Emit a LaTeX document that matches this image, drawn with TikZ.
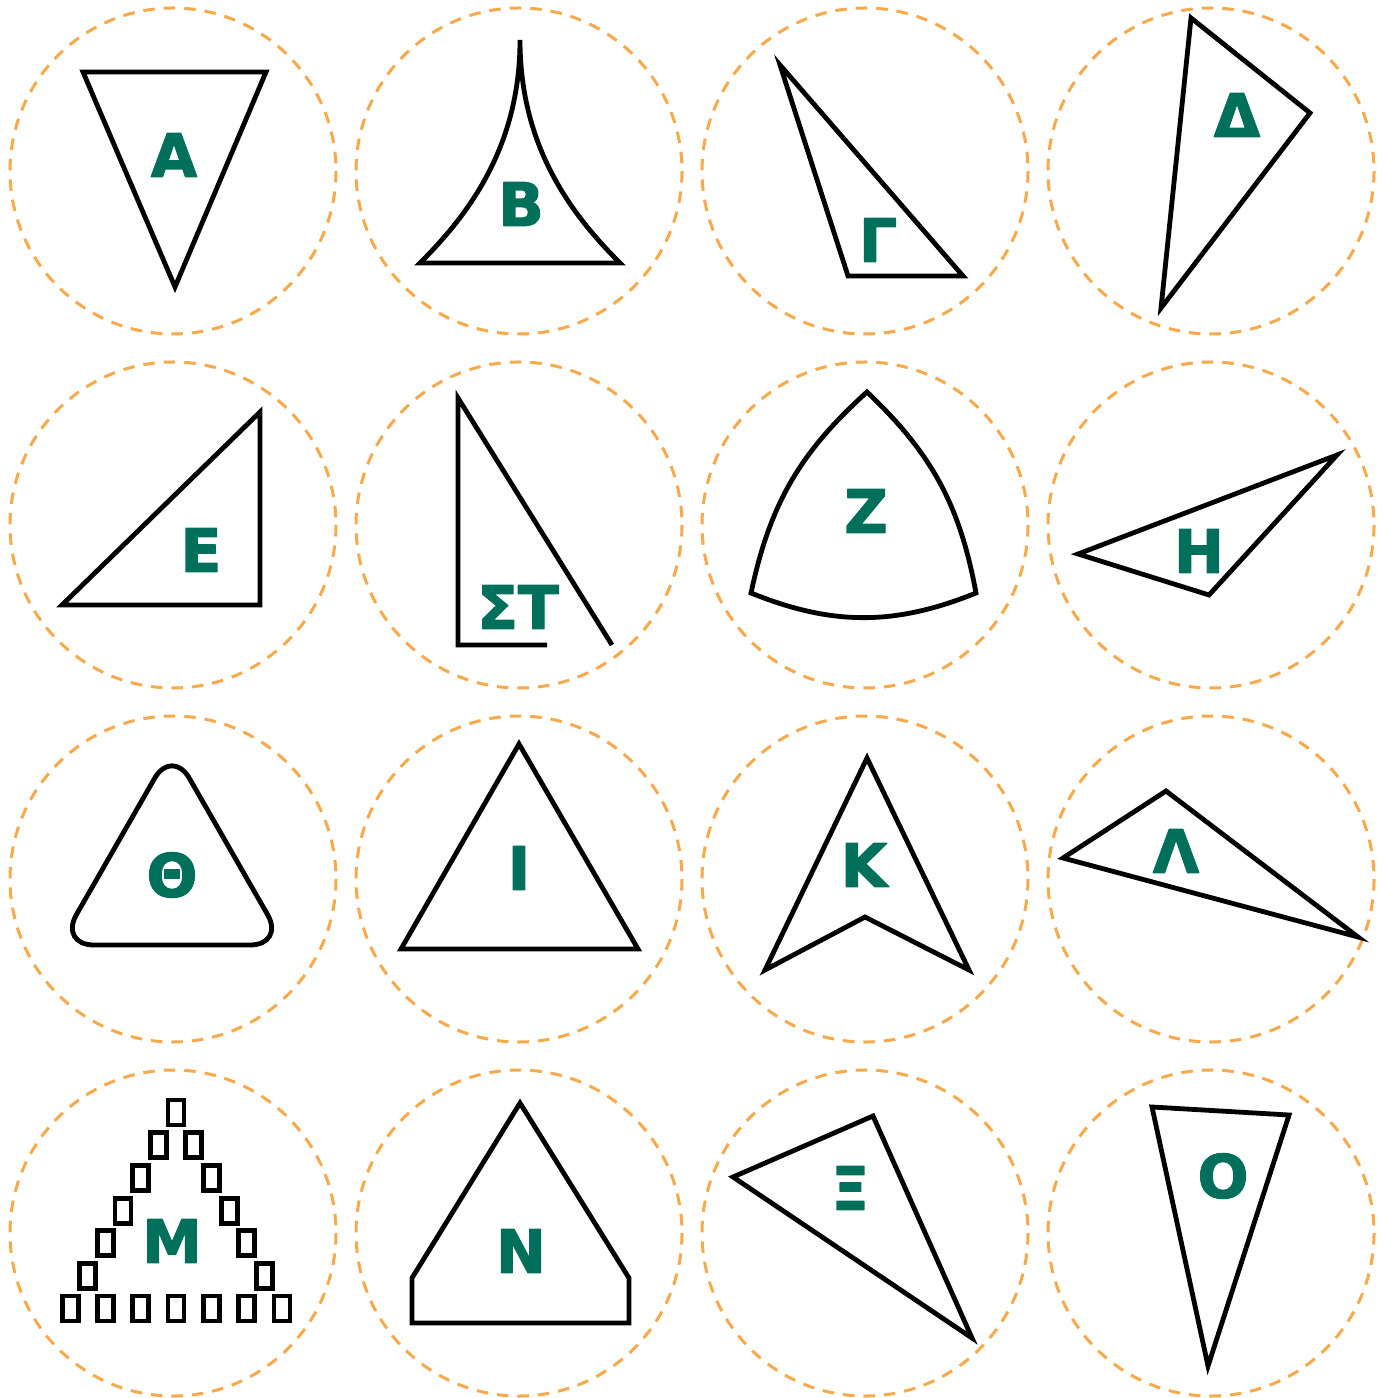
\documentclass[tikz,border=0pt]{standalone}
\usepackage{fontspec}
\usepackage{tikz}
\newfontfamily\glyphfont{DejaVu Sans Bold}[FakeBold=2.2]
\definecolor{ringorange}{HTML}{F7A94B}
\definecolor{glyphgreen}{HTML}{00705A}
\tikzset{
  ring/.style={draw=ringorange, line width=0.03cm, dash pattern=on 0.115cm off 0.09cm},
  figline/.style={draw=black, line width=0.048cm, line join=miter},
  glabel/.style={text=glyphgreen, inner sep=0pt, line join=round,
    font=\glyphfont\fontsize{17}{17}\selectfont}
}

\begin{document}
\begin{tikzpicture}[x=0.01cm, y=-0.01cm]
    \useasboundingbox (0,0) rectangle (1388,1398);
    % dashed rings
    \foreach \cx in {173,519,865,1211}
      \foreach \cy in {171,525,879,1233}
        \draw[ring] (\cx,\cy) circle[radius=163];

    % row 1
    \draw[figline] (83,72) -- (266,72) -- (175,287) -- cycle;
    \node[glabel] (alpha) at (174,155) {Α};
    \draw[figline] (420,263) .. controls (465,218) and (520,150) .. (520,40)
                   .. controls (520,150) and (575,218) .. (620,263) -- cycle;
    \node[glabel] (beta) at (521,204) {Β};
    \draw[figline] (780,65) -- (963,276) -- (848,276) -- cycle;
    \node[glabel] (gamma) at (878,240) {Γ};
    \draw[figline] (1191,18) -- (1310,113) -- (1161,308) -- cycle;
    \node[glabel] (delta) at (1237,115) {Δ};

    % row 2
    \draw[figline] (62,605) -- (260,412) -- (260,605) -- cycle;
    \node[glabel] (epsilon) at (201,550) {Ε};
    \draw[figline] (547,645) -- (458,645) -- (458,398) -- (612,645);
    \node[glabel] (stigma) at (518,607) {ΣΤ};
    \draw[figline] (867,392) to[bend left=18] (976,593)
                   to[bend left=22] (751,593) to[bend left=18] cycle;
    \node[glabel] (zeta) at (866,511) {Ζ};
    \draw[figline] (1078,554) -- (1337,455) -- (1209,595) -- cycle;
    \node[glabel] (eta) at (1199,551) {Η};

    % row 3
    \draw[figline, rounded corners=0.35cm] (172,748) -- (285,945) -- (59,945) -- cycle;
    \node[glabel] (theta) at (172,875) {Θ};
    \draw[figline] (519,744) -- (638,949) -- (401,949) -- cycle;
    \node[glabel] (iota) at (519,868) {Ι};
    \draw[figline] (867,758) -- (969,970) -- (865,917) -- (765,970) -- cycle;
    \node[glabel] (kappa) at (864,865) {Κ};
    \draw[figline] (1063,858) -- (1166,791) -- (1358,937) -- cycle;
    \node[glabel] (lambda) at (1176,851) {Λ};

    % row 4
    \draw[figline] (168,1100) rectangle +(16,25);
    \foreach \k in {1,...,5} {
      \draw[figline] ({168-17.7*\k},{1100+32.7*\k}) rectangle +(16,25);
      \draw[figline] ({168+17.7*\k},{1100+32.7*\k}) rectangle +(16,25);
    }
    \foreach \j in {-3,...,3}
      \draw[figline] ({168+35.3*\j},1296) rectangle +(16,25);
    \node[glabel] (mu) at (172,1241) {Μ};
    \draw[figline] (520,1103) -- (629,1278) -- (629,1323) -- (412,1323) -- (412,1278) -- cycle;
    \node[glabel] (nu) at (521,1251) {Ν};
    \draw[figline] (733,1177) -- (873,1116) -- (972,1338) -- cycle;
    \node[glabel] (xi) at (850,1188) {Ξ};
    \draw[figline] (1152,1107) -- (1289,1115) -- (1208,1366) -- cycle;
    \node[glabel] (omicron) at (1223,1176) {Ο};
\end{tikzpicture}
\end{document}
